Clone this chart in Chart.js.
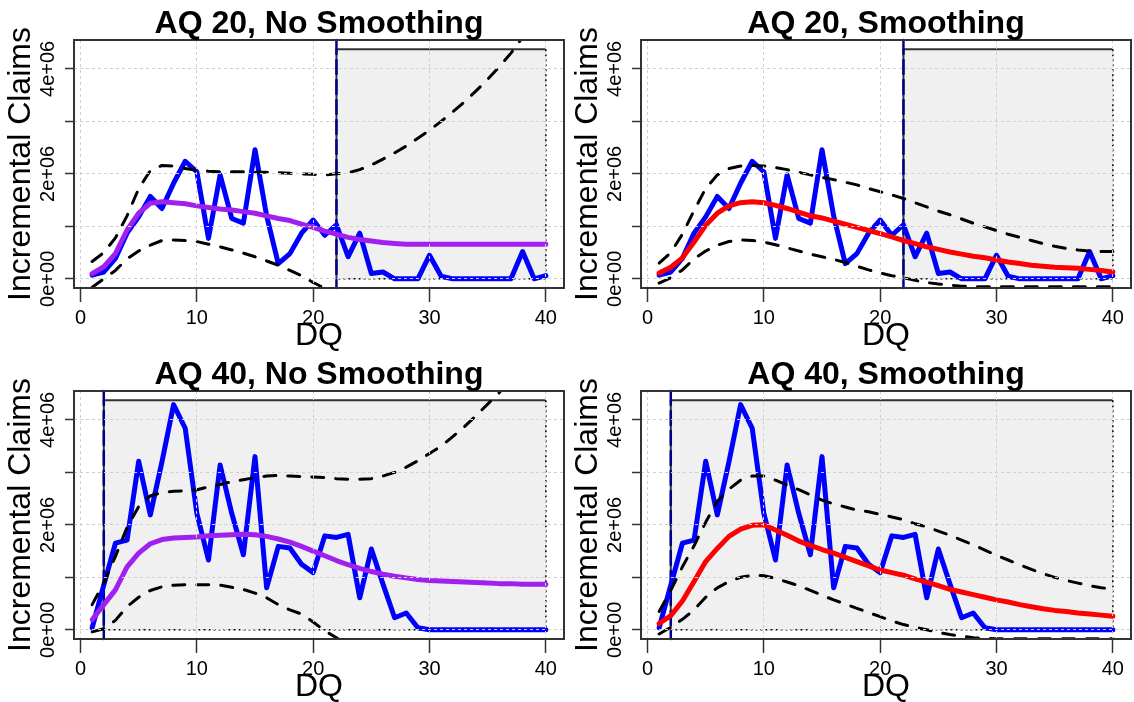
<!DOCTYPE html>
<html>
<head>
<meta charset="utf-8">
<title>Incremental claims by development quarter</title>
<script src="https://cdn.jsdelivr.net/npm/chart.js@4.4.0/dist/chart.umd.min.js"></script>
<style>
  body { margin: 0; background: #fff; }
  canvas { position: absolute; }
</style>
</head>
<body>
<canvas id="aq20raw" width="567" height="351" style="left:0;top:0"></canvas>
<canvas id="aq20smooth" width="567" height="351" style="left:567px;top:0"></canvas>
<canvas id="aq40raw" width="567" height="351" style="left:0;top:351px"></canvas>
<canvas id="aq40smooth" width="567" height="351" style="left:567px;top:351px"></canvas>
<script>
// development quarters
const dq = [1, 2, 3, 4, 5, 6, 7, 8, 9, 10, 11, 12, 13, 14, 15, 16, 17, 18, 19, 20,
            21, 22, 23, 24, 25, 26, 27, 28, 29, 30, 31, 32, 33, 34, 35, 36, 37, 38, 39, 40];

// observed incremental claims
const claimsAQ20 = [0.07e6, 0.13e6, 0.39e6, 0.87e6, 1.18e6, 1.57e6, 1.34e6, 1.82e6, 2.24e6, 2.04e6,
                    0.77e6, 1.98e6, 1.15e6, 1.06e6, 2.46e6, 1.2e6, 0.29e6, 0.48e6, 0.87e6, 1.12e6,
                    0.83e6, 1.03e6, 0.42e6, 0.87e6, 0.1e6, 0.13e6, 0, 0, 0, 0.45e6,
                    0.05e6, 0, 0, 0, 0, 0, 0, 0.52e6, 0, 0.06e6];
const claimsAQ40 = [0.04e6, 0.85e6, 1.65e6, 1.71e6, 3.21e6, 2.19e6, 3.2e6, 4.29e6, 3.84e6, 2.22e6,
                    1.33e6, 3.14e6, 2.22e6, 1.43e6, 3.3e6, 0.8e6, 1.59e6, 1.56e6, 1.25e6, 1.09e6,
                    1.79e6, 1.76e6, 1.82e6, 0.61e6, 1.54e6, 0.87e6, 0.23e6, 0.32e6, 0.04e6, 0,
                    0, 0, 0, 0, 0, 0, 0, 0, 0, 0];

// AQ 20, fit without smoothing, with band
const fitAQ20 = [0.1e6, 0.23e6, 0.48e6, 0.93e6, 1.25e6, 1.44e6, 1.47e6, 1.45e6, 1.43e6, 1.39e6,
                 1.36e6, 1.33e6, 1.31e6, 1.28e6, 1.25e6, 1.2e6, 1.15e6, 1.11e6, 1.04e6, 0.98e6,
                 0.91e6, 0.85e6, 0.79e6, 0.75e6, 0.72e6, 0.69e6, 0.675e6, 0.66e6, 0.66e6, 0.66e6,
                 0.66e6, 0.66e6, 0.66e6, 0.66e6, 0.66e6, 0.66e6, 0.66e6, 0.66e6, 0.66e6, 0.66e6];
const upperAQ20 = [0.33e6, 0.5e6, 0.78e6, 1.2e6, 1.72e6, 2.06e6, 2.16e6, 2.15e6, 2.1e6, 2.07e6,
                   2.05e6, 2.04e6, 2.04e6, 2.04e6, 2.03e6, 2.03e6, 2.02e6, 2.01e6, 2.0e6, 1.99e6,
                   1.98e6, 2.0e6, 2.02e6, 2.08e6, 2.17e6, 2.28e6, 2.4e6, 2.53e6, 2.68e6, 2.83e6,
                   3.0e6, 3.18e6, 3.37e6, 3.58e6, 3.8e6, 4.04e6, 4.3e6, 4.6e6, 4.92e6, 5.25e6];
const lowerAQ20 = [-0.16e6, 0, 0.16e6, 0.38e6, 0.53e6, 0.64e6, 0.73e6, 0.74e6, 0.73e6, 0.71e6,
                   0.66e6, 0.61e6, 0.55e6, 0.49e6, 0.42e6, 0.34e6, 0.26e6, 0.16e6, 0.06e6, -0.07e6,
                   -0.18e6, -0.3e6, -0.4e6, -0.55e6, -0.7e6, -0.85e6, -1.0e6, -1.15e6, -1.3e6, -1.5e6,
                   -1.68e6, -1.86e6, -2.05e6, -2.26e6, -2.48e6, -2.72e6, -2.98e6, -3.28e6, -3.6e6, -3.93e6];

// AQ 20, smoothed fit with band
const smoothAQ20 = [0.11e6, 0.22e6, 0.4e6, 0.7e6, 1.02e6, 1.25e6, 1.39e6, 1.45e6, 1.47e6, 1.45e6,
                    1.4e6, 1.34e6, 1.27e6, 1.2e6, 1.16e6, 1.1e6, 1.04e6, 0.98e6, 0.92e6, 0.86e6,
                    0.8e6, 0.73e6, 0.67e6, 0.61e6, 0.56e6, 0.51e6, 0.47e6, 0.43e6, 0.4e6, 0.36e6,
                    0.32e6, 0.29e6, 0.26e6, 0.24e6, 0.22e6, 0.21e6, 0.2e6, 0.18e6, 0.16e6, 0.13e6];
const smoothUpperAQ20 = [0.3e6, 0.5e6, 0.85e6, 1.3e6, 1.72e6, 1.98e6, 2.1e6, 2.15e6, 2.16e6, 2.15e6,
                         2.12e6, 2.08e6, 2.03e6, 1.98e6, 1.93e6, 1.89e6, 1.84e6, 1.79e6, 1.72e6, 1.66e6,
                         1.6e6, 1.53e6, 1.45e6, 1.37e6, 1.29e6, 1.22e6, 1.14e6, 1.06e6, 0.99e6, 0.92e6,
                         0.85e6, 0.79e6, 0.73e6, 0.67e6, 0.62e6, 0.58e6, 0.55e6, 0.53e6, 0.52e6, 0.52e6];
const smoothLowerAQ20 = [-0.08e6, 0.02e6, 0.17e6, 0.38e6, 0.53e6, 0.64e6, 0.71e6, 0.74e6, 0.73e6, 0.7e6,
                         0.65e6, 0.59e6, 0.53e6, 0.47e6, 0.42e6, 0.37e6, 0.31e6, 0.24e6, 0.17e6, 0.11e6,
                         0.06e6, 0.02e6, -0.03e6, -0.07e6, -0.1e6, -0.12e6, -0.14e6, -0.15e6, -0.15e6, -0.15e6,
                         -0.15e6, -0.15e6, -0.15e6, -0.15e6, -0.15e6, -0.15e6, -0.15e6, -0.15e6, -0.15e6, -0.15e6];

// AQ 40, fit without smoothing, with band
const fitAQ40 = [0.19e6, 0.48e6, 0.76e6, 1.2e6, 1.46e6, 1.64e6, 1.72e6, 1.75e6, 1.76e6, 1.77e6,
                 1.79e6, 1.8e6, 1.81e6, 1.82e6, 1.81e6, 1.78e6, 1.73e6, 1.67e6, 1.59e6, 1.5e6,
                 1.41e6, 1.32e6, 1.24e6, 1.17e6, 1.11e6, 1.06e6, 1.02e6, 0.99e6, 0.96e6, 0.94e6,
                 0.93e6, 0.92e6, 0.91e6, 0.9e6, 0.89e6, 0.88e6, 0.88e6, 0.87e6, 0.87e6, 0.87e6];
const upperAQ40 = [0.48e6, 0.89e6, 1.4e6, 1.95e6, 2.35e6, 2.55e6, 2.62e6, 2.64e6, 2.65e6, 2.67e6,
                   2.72e6, 2.77e6, 2.82e6, 2.86e6, 2.9e6, 2.93e6, 2.94e6, 2.93e6, 2.92e6, 2.91e6,
                   2.9e6, 2.88e6, 2.87e6, 2.87e6, 2.88e6, 2.93e6, 3.0e6, 3.1e6, 3.22e6, 3.36e6,
                   3.5e6, 3.68e6, 3.87e6, 4.08e6, 4.3e6, 4.52e6, 4.78e6, 5.05e6, 5.35e6, 5.65e6];
const lowerAQ40 = [-0.04e6, 0.02e6, 0.18e6, 0.44e6, 0.62e6, 0.75e6, 0.82e6, 0.85e6, 0.86e6, 0.86e6,
                   0.86e6, 0.85e6, 0.81e6, 0.77e6, 0.7e6, 0.61e6, 0.48e6, 0.38e6, 0.3e6, 0.15e6,
                   -0.02e6, -0.15e6, -0.3e6, -0.45e6, -0.6e6, -0.78e6, -0.96e6, -1.15e6, -1.35e6, -1.55e6,
                   -1.77e6, -2.0e6, -2.24e6, -2.5e6, -2.77e6, -3.05e6, -3.35e6, -3.66e6, -3.98e6, -4.3e6];

// AQ 40, smoothed fit with band
const smoothAQ40 = [0.12e6, 0.27e6, 0.55e6, 0.92e6, 1.3e6, 1.55e6, 1.78e6, 1.92e6, 1.99e6, 2.0e6,
                    1.9e6, 1.8e6, 1.69e6, 1.61e6, 1.53e6, 1.46e6, 1.38e6, 1.3e6, 1.22e6, 1.14e6,
                    1.09e6, 1.04e6, 0.97e6, 0.91e6, 0.84e6, 0.77e6, 0.72e6, 0.67e6, 0.62e6, 0.57e6,
                    0.53e6, 0.48e6, 0.44e6, 0.4e6, 0.37e6, 0.35e6, 0.32e6, 0.3e6, 0.28e6, 0.26e6];
const smoothUpperAQ40 = [0.35e6, 0.75e6, 1.2e6, 1.6e6, 2.05e6, 2.45e6, 2.68e6, 2.85e6, 2.93e6, 2.93e6,
                         2.85e6, 2.76e6, 2.67e6, 2.57e6, 2.47e6, 2.4e6, 2.34e6, 2.28e6, 2.25e6, 2.2e6,
                         2.15e6, 2.1e6, 2.02e6, 1.96e6, 1.88e6, 1.8e6, 1.71e6, 1.62e6, 1.52e6, 1.42e6,
                         1.33e6, 1.24e6, 1.15e6, 1.07e6, 1.0e6, 0.94e6, 0.89e6, 0.84e6, 0.8e6, 0.78e6];
const smoothLowerAQ40 = [-0.08e6, 0.05e6, 0.2e6, 0.38e6, 0.62e6, 0.8e6, 0.92e6, 1.0e6, 1.04e6, 1.03e6,
                         0.98e6, 0.91e6, 0.84e6, 0.75e6, 0.66e6, 0.57e6, 0.49e6, 0.41e6, 0.33e6, 0.25e6,
                         0.17e6, 0.1e6, 0.05e6, 0, -0.05e6, -0.09e6, -0.12e6, -0.15e6, -0.16e6, -0.17e6,
                         -0.17e6, -0.17e6, -0.17e6, -0.17e6, -0.17e6, -0.17e6, -0.17e6, -0.17e6, -0.17e6, -0.17e6];

// axis ticks
const xTickValues = [0, 10, 20, 30, 40];
const xTickLabels = ['0', '10', '20', '30', '40'];
const yGridValues = [0, 1e6, 2e6, 3e6, 4e6];
const yTickValues = [0, 2e6, 4e6];
const yTickLabels = ['0e+00', '2e+06', '4e+06'];

// axis limits and the projected region
const xMin = -0.56, xMax = 41.56;
const yMin = -0.175e6, yMax = 4.55e6;
const regionTop = 4.375e6;
const regionEnd = 40;

const FONT = '"Liberation Sans", Arial, sans-serif';
Chart.defaults.font.family = FONT;
Chart.defaults.color = '#000';

// shaded projection area plus the cut-off line
const forecastBox = {
  id: 'forecastBox',
  beforeDatasetsDraw(chart, args, opts) {
    const {ctx, chartArea, scales: {x, y}} = chart;
    const x0 = x.getPixelForValue(opts.from);
    const x1 = x.getPixelForValue(opts.to);
    const yb = y.getPixelForValue(0);
    const yt = y.getPixelForValue(opts.top);
    ctx.save();
    ctx.fillStyle = '#f0f0f0';
    ctx.fillRect(x0, yt, x1 - x0, yb - yt);
    ctx.strokeStyle = '#333';
    ctx.lineWidth = 2;
    ctx.beginPath();
    ctx.moveTo(x0, yb); ctx.lineTo(x0, yt); ctx.lineTo(x1, yt);
    ctx.stroke();
    ctx.strokeStyle = '#000';
    ctx.lineWidth = 1.5;
    ctx.setLineDash([2, 3]);
    ctx.beginPath();
    ctx.moveTo(x1, yt); ctx.lineTo(x1, yb); ctx.lineTo(x0, yb);
    ctx.stroke();
    ctx.strokeStyle = '#00008b';
    ctx.lineWidth = 2.5;
    ctx.lineCap = 'round';
    ctx.setLineDash([14, 6]);
    ctx.beginPath();
    ctx.moveTo(x0, chartArea.top); ctx.lineTo(x0, chartArea.bottom);
    ctx.stroke();
    ctx.restore();
  }
};

// plot frame, panel heading and the rotated y tick labels
const panelFrame = {
  id: 'panelFrame',
  afterDraw(chart, args, opts) {
    const {ctx, chartArea: a, scales: {y}} = chart;
    ctx.save();
    ctx.strokeStyle = '#333';
    ctx.lineWidth = 2;
    ctx.strokeRect(a.left, a.top, a.right - a.left, a.bottom - a.top);
    ctx.fillStyle = '#000';
    ctx.font = 'bold 32px ' + FONT;
    ctx.textAlign = 'center';
    ctx.textBaseline = 'middle';
    ctx.fillText(opts.text, (a.left + a.right) / 2, 24);
    ctx.font = '20px ' + FONT;
    yTickValues.forEach((v, i) => {
      ctx.save();
      ctx.translate(a.left - 26, y.getPixelForValue(v));
      ctx.rotate(-Math.PI / 2);
      ctx.fillText(yTickLabels[i], 0, 0);
      ctx.restore();
    });
    ctx.restore();
  }
};

function series(values, color, width, dash, order) {
  return {
    data: dq.map((d, i) => ({x: d, y: values[i]})),
    borderColor: color,
    borderWidth: width,
    borderDash: dash,
    borderCapStyle: 'round',
    borderJoinStyle: 'round',
    pointRadius: 0,
    tension: 0,
    clip: 0,
    order: order
  };
}

function panel(id, title, observed, fit, upper, lower, fitColor, cutoff) {
  new Chart(document.getElementById(id), {
    type: 'line',
    data: {
      datasets: [
        series(upper, '#000', 3, [12, 12], 1),
        series(lower, '#000', 3, [12, 12], 1),
        series(fit, fitColor, 5, [], 2),
        series(observed, '#0000ff', 5, [], 3)
      ]
    },
    options: {
      responsive: false,
      animation: false,
      devicePixelRatio: 1,
      layout: {padding: {top: 40, right: 3, bottom: 0, left: 0}},
      plugins: {
        legend: {display: false},
        tooltip: {enabled: false},
        forecastBox: {from: cutoff, to: regionEnd, top: regionTop},
        panelFrame: {text: title}
      },
      scales: {
        x: {
          type: 'linear',
          min: xMin,
          max: xMax,
          afterFit: s => { s.height = 63; },
          afterBuildTicks: s => { s.ticks = xTickValues.map(v => ({value: v})); },
          border: {display: false, dash: [3, 3]},
          grid: {z: 1, color: '#cfcfcf', lineWidth: 1, tickLength: 14, tickColor: '#333', tickWidth: 1.5, tickBorderDash: []},
          ticks: {
            autoSkip: false, maxRotation: 0, padding: 4,
            font: {size: 20},
            callback: v => { const k = xTickValues.indexOf(v); return k < 0 ? '' : xTickLabels[k]; }
          },
          title: {display: true, text: 'DQ', font: {size: 32, lineHeight: 1}, padding: {top: 0, bottom: -1}}
        },
        y: {
          type: 'linear',
          min: yMin,
          max: yMax,
          afterFit: s => { s.width = 74; },
          afterBuildTicks: s => { s.ticks = yGridValues.map(v => ({value: v})); },
          border: {display: false, dash: [3, 3]},
          grid: {z: 1, color: '#cfcfcf', lineWidth: 1, tickLength: 9, tickColor: '#333', tickWidth: 1.5, tickBorderDash: []},
          // labels themselves are drawn rotated by panelFrame
          ticks: {autoSkip: false, font: {size: 20}, callback: () => ''},
          title: {display: true, text: 'Incremental Claims', font: {size: 32, lineHeight: 1}, padding: {top: 5.5, bottom: 0}}
        }
      }
    },
    plugins: [forecastBox, panelFrame]
  });
}

panel('aq20raw', 'AQ 20, No Smoothing', claimsAQ20, fitAQ20, upperAQ20, lowerAQ20, '#a020f0', 22);
panel('aq20smooth', 'AQ 20, Smoothing', claimsAQ20, smoothAQ20, smoothUpperAQ20, smoothLowerAQ20, '#ff0000', 22);
panel('aq40raw', 'AQ 40, No Smoothing', claimsAQ40, fitAQ40, upperAQ40, lowerAQ40, '#a020f0', 2);
panel('aq40smooth', 'AQ 40, Smoothing', claimsAQ40, smoothAQ40, smoothUpperAQ40, smoothLowerAQ40, '#ff0000', 2);
</script>
</body>
</html>
